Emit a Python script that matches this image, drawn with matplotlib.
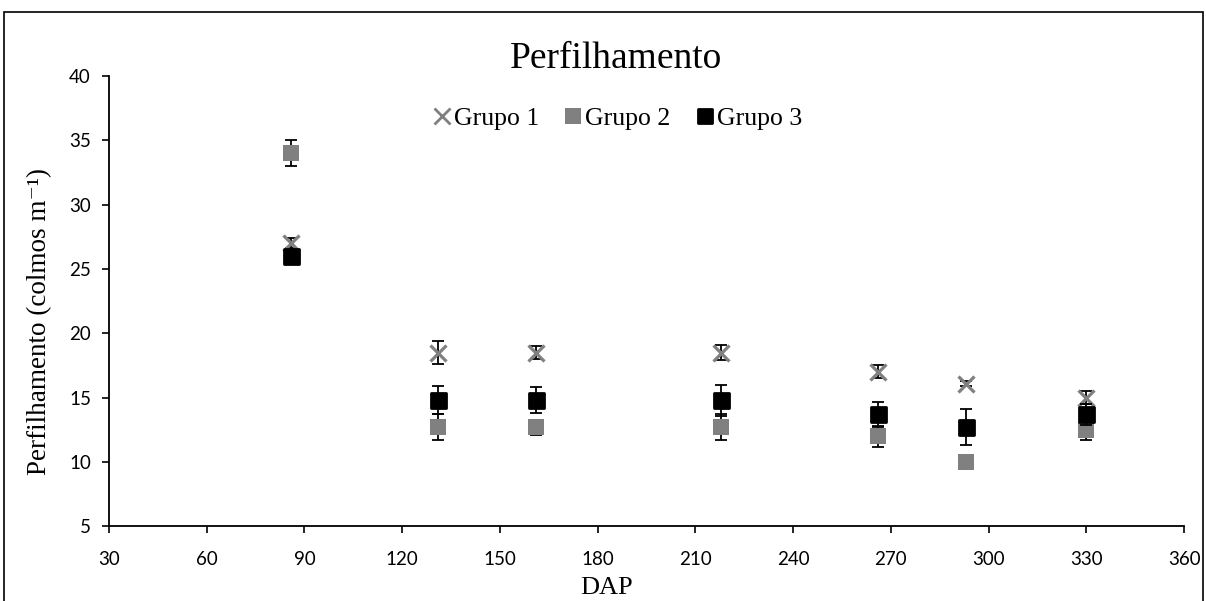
import matplotlib.pyplot as plt
from matplotlib.markers import MarkerStyle
from matplotlib.lines import Line2D
from matplotlib.patches import Rectangle

# Perfilhamento (colmos por metro) ao longo dos dias apos o plantio
dap = [86, 131, 161, 218, 266, 293, 330]

grupo1 = [27.0, 18.5, 18.5, 18.5, 17.0, 16.1, 15.0]
grupo2 = [34.0, 12.7, 12.7, 12.7, 12.0, 10.0, 12.5]
grupo3 = [26.0, 14.8, 14.8, 14.8, 13.7, 12.7, 13.7]

erro1 = [0.4, 0.9, 0.5, 0.6, 0.5, 0.2, 0.5]
erro2 = [1.0, 1.0, 0.6, 1.0, 0.8, 0.2, 0.8]
erro3 = [0.4, 1.1, 1.0, 1.2, 1.0, 1.4, 0.8]

x_ticks = list(range(30, 361, 30))
y_ticks = list(range(5, 41, 5))

serif = ["Liberation Serif", "DejaVu Serif"]
sans = "Lato"
cinza = "#808080"

fig = plt.figure(figsize=(12.06, 6.01), dpi=100)
ax = fig.add_axes([0.0904, 0.124, 0.8914, 0.750])

quadrado = MarkerStyle("s", joinstyle="round")

# Grupo 1
ax.errorbar(dap, grupo1, yerr=erro1, fmt="none", ecolor="black",
            elinewidth=1.3, capsize=4.5, capthick=1.3, zorder=2)
ax.plot(dap, grupo1, linestyle="none", marker="x", markersize=12,
        markeredgewidth=2.3, color=cinza, zorder=3)

# Grupo 2
ax.errorbar(dap, grupo2, yerr=erro2, fmt="none", ecolor="black",
            elinewidth=1.3, capsize=4.5, capthick=1.3, zorder=4)
ax.plot(dap, grupo2, linestyle="none", marker="s", markersize=11,
        markeredgewidth=0, color=cinza, zorder=5)

# Grupo 3
ax.errorbar(dap, grupo3, yerr=erro3, fmt="none", ecolor="black",
            elinewidth=1.3, capsize=4.5, capthick=1.3, zorder=6)
ax.plot(dap, grupo3, linestyle="none", marker=quadrado, markersize=10.8,
        markeredgewidth=2.0, markerfacecolor="black",
        markeredgecolor="black", zorder=7)

ax.set_xlim(30, 360)
ax.set_ylim(5, 40)
ax.set_xticks(x_ticks)
ax.set_yticks(y_ticks)
ax.tick_params(axis="both", direction="out", length=5, width=1.2,
               labelsize=13.5)
ax.tick_params(axis="x", pad=13)
ax.tick_params(axis="y", pad=8)
for lab in ax.get_xticklabels() + ax.get_yticklabels():
    lab.set_fontfamily(sans)

for lado in ["top", "right"]:
    ax.spines[lado].set_visible(False)
for lado in ["left", "bottom"]:
    ax.spines[lado].set_linewidth(1.3)

ax.set_xlabel("DAP", fontfamily=serif, fontsize=19)
ax.xaxis.set_label_coords(0.463, -0.112)
ax.set_ylabel("Perfilhamento (colmos m\u207b\u00b9)",
              fontfamily=serif, fontsize=19.5)
ax.yaxis.set_label_coords(-0.053, 0.454)

fig.text(0.511, 0.903, "Perfilhamento", fontfamily=serif, fontsize=27,
         ha="center", va="center")

legenda = [
    Line2D([], [], linestyle="none", marker="x", markersize=12,
           markeredgewidth=2.0, color=cinza),
    Line2D([], [], linestyle="none", marker="s", markersize=11,
           markeredgewidth=0, color=cinza),
    Line2D([], [], linestyle="none", marker=quadrado, markersize=10.5,
           markeredgewidth=2.0, markerfacecolor="black",
           markeredgecolor="black"),
]
ax.legend(legenda, ["Grupo 1", "Grupo 2", "Grupo 3"], ncol=3,
          loc="center", bbox_to_anchor=(0.4726, 0.906), frameon=False,
          prop={"family": serif, "size": 18.5}, handlelength=0.75,
          handletextpad=0.1, columnspacing=0.95)

# borda da area do grafico
fig.patches.append(Rectangle((4 / 1206, -0.1), 1199 / 1206, 1 - 12 / 601 + 0.1,
                             transform=fig.transFigure, fill=False,
                             edgecolor="black", linewidth=1.2))

fig.savefig("out.png", dpi=100)
